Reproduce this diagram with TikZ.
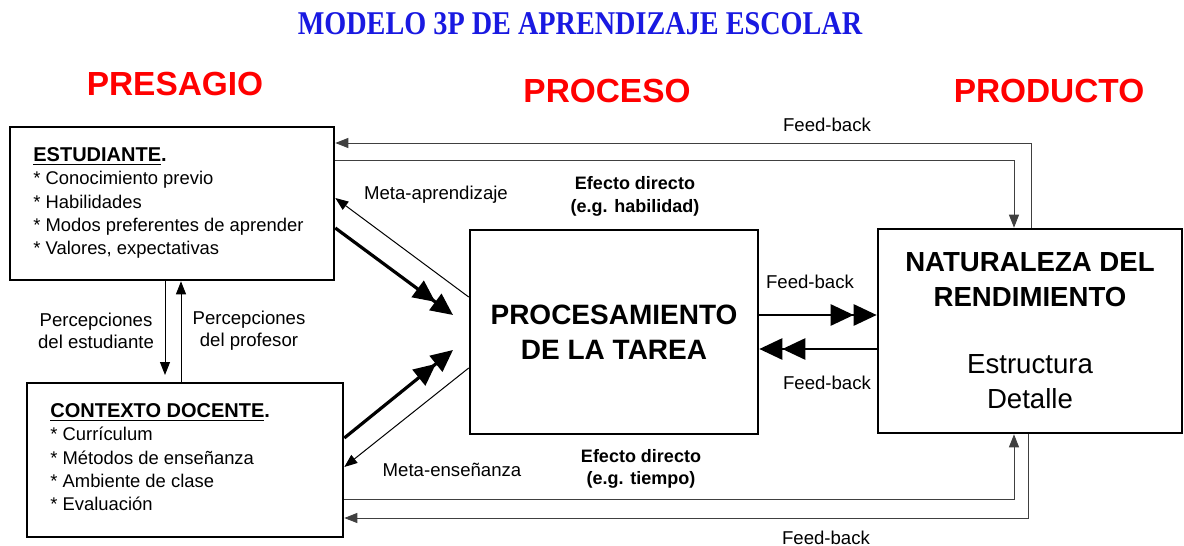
\documentclass[tikz,border=0pt]{standalone}
\usepackage{fontspec}
\setmainfont{Liberation Sans}
\newfontfamily\titlefont{Liberation Serif}
\usetikzlibrary{arrows.meta}
\definecolor{titleblue}{RGB}{25,25,225}
\begin{document}
\begin{tikzpicture}[x=0.5pt, y=-0.5pt, >={Triangle[length=6.5pt,width=5pt]},
    box/.style={draw, line width=1.3pt, inner sep=0pt},
    phase/.style={font=\bfseries\fontsize{16.7}{20}\selectfont, text=red, inner sep=0pt},
    lbl/.style={font=\fontsize{9.3}{11}\selectfont, align=center, inner sep=0pt},
    list/.style={font=\fontsize{9.2}{11.7}\selectfont, align=left, inner sep=0pt, anchor=north west},
    thinarr/.style={line width=0.5pt, ->},
    fb/.style={line width=0.5pt, black!75, ->},
    thickarr/.style={line width=1.6pt, -{Triangle[length=11pt,width=10pt]Triangle[length=11pt,width=10pt]}},
    dblarr/.style={line width=1.3pt, -{Triangle[length=11.5pt,width=10.5pt]Triangle[length=11.5pt,width=10.5pt]}}]
    \useasboundingbox (0,0) rectangle (1184,546);

    \node[font=\titlefont\bfseries\fontsize{16.6}{18}\selectfont, text=titleblue, inner sep=0pt] (title) at (580,24)
        {\scalebox{0.85}[1]{MODELO 3P DE APRENDIZAJE ESCOLAR}};
    \node[phase] (presagio) at (175,84) {PRESAGIO};
    \node[phase] (proceso) at (607,91) {PROCESO};
    \node[phase] (producto) at (1049,91) {PRODUCTO};

    \node[box, minimum width=162pt, minimum height=76.5pt] (estud) at (172,203.5) {};
    \node[box, minimum width=158pt, minimum height=77pt] (ctx) at (185,460) {};
    \node[box, minimum width=144pt, minimum height=102pt, align=center,
          font=\bfseries\fontsize{14}{17.5}\selectfont] (proc) at (614,332) {PROCESAMIENTO\\DE LA TAREA};
    \node[box, minimum width=152pt, minimum height=102pt, align=center,
          font=\fontsize{13.8}{17.5}\selectfont] (nat) at (1030,331)
        {\textbf{NATURALEZA DEL}\\\textbf{RENDIMIENTO}\\[16pt]Estructura\\Detalle};

    \node[list] (estudtxt) at (33,147) {{\fontsize{10}{12}\selectfont\bfseries\underline{ESTUDIANTE}.}\\
        * Conocimiento previo\\* Habilidades\\* Modos preferentes de aprender\\* Valores, expectativas};
    \node[list] (ctxtxt) at (50,403) {{\fontsize{10}{12}\selectfont\bfseries\underline{CONTEXTO DOCENTE}.}\\
        * Currículum\\* Métodos de enseñanza\\* Ambiente de clase\\* Evaluación};

    \node[lbl] (percest) at (96,331) {Percepciones\\del estudiante};
    \node[lbl] (percprof) at (249,331) {Percepciones\\del profesor};
    \node[lbl] (metaap) at (436,195) {Meta-aprendizaje};
    \node[lbl] (metaens) at (452,470) {Meta-enseñanza};
    \node[lbl, font=\bfseries\fontsize{9}{11.5}\selectfont] (efhab) at (635,196) {Efecto directo\\(e.g. habilidad)};
    \node[lbl, font=\bfseries\fontsize{9}{11}\selectfont] (eftie) at (641,469) {Efecto directo\\(e.g. tiempo)};
    \node[lbl] (fbtop) at (827,125) {Feed-back};
    \node[lbl] (fbup) at (810,282) {Feed-back};
    \node[lbl] (fblow) at (827,383) {Feed-back};
    \node[lbl] (fbbot) at (826,538) {Feed-back};

    \coordinate (tipA) at (453,315);
    \coordinate (tipB) at (453,350);
    \coordinate (pdown) at (165,375);

    \draw[thickarr] (estud.east |- 0,228) -- (tipA);
    \draw[thickarr] (ctx.east |- 0,438) -- (tipB);
    \draw[thinarr] (proc.west |- 0,297) -- (estud.east |- 0,198);
    \draw[thinarr] (proc.west |- 0,368) -- (ctx.east |- 0,467);
    \draw[thinarr] (estud.south -| 165,0) -- (pdown);
    \draw[thinarr] (ctx.north -| 181,0) -- (estud.south -| 181,0);

    \draw[dblarr] (proc.east |- 0,315) -- (nat.west |- 0,315);
    \draw[dblarr] (nat.west |- 0,349) -- (proc.east |- 0,349);

    \draw[fb] (nat.north -| 1031,0) |- (estud.east |- 0,143);
    \draw[fb] (estud.east |- 0,160) -| (nat.north -| 1014,0);
    \draw[fb] (ctx.east |- 0,499) -| (nat.south -| 1014,0);
    \draw[fb] (nat.south -| 1028,0) |- (ctx.east |- 0,518);
\end{tikzpicture}
\end{document}
